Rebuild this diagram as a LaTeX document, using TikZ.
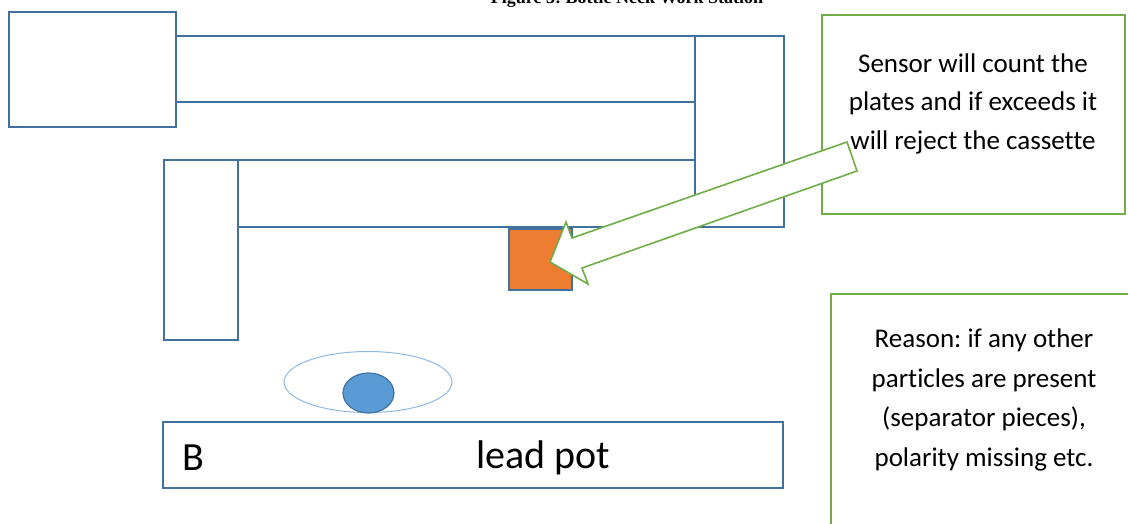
\documentclass[tikz,border=0pt]{standalone}
\usepackage{fontspec}
\setmainfont{Carlito}[Ligatures=CommonOff]
\newfontfamily\capfont{Liberation Serif}
\usepackage{tikz}
\usetikzlibrary{shapes.geometric,positioning}
\usepackage{xcolor}
\definecolor{partblue}{RGB}{65,113,156}
\definecolor{notegreen}{RGB}{112,173,71}
\definecolor{sensororange}{RGB}{237,125,49}
\definecolor{eyeblue}{RGB}{91,155,213}
\definecolor{eyeline}{RGB}{140,185,228}
\tikzstyle{part} = [draw=partblue, line width=1.5pt, fill=white, inner sep=0pt, outer sep=0pt, anchor=north west]
\tikzstyle{note} = [draw=notegreen, line width=1.6pt, fill=white, inner sep=0pt, outer sep=0pt, anchor=north west]
\tikzstyle{notetext} = [align=center, font=\fontsize{27}{38.5}\selectfont]
\frenchspacing

\begin{document}
\begin{tikzpicture}[x=1pt, y=-1pt]
\useasboundingbox (0,0) rectangle (1128,524);
\clip (0,0) rectangle (1128,524);

% Caption (cut off at the top)
\node[font=\capfont\bfseries\fontsize{18}{20}\selectfont, anchor=base] (caption) at (627,4) {Figure 3: Bottle Neck Work Station};

% Machine parts
\node[part, minimum width=167pt, minimum height=115pt] (feeder) at (9,12) {};
\node[part, minimum width=519pt, minimum height=66pt] (topbar) at (176,36) {};
\node[part, minimum width=89pt, minimum height=191pt] (rightpost) at (695,36) {};
\node[part, minimum width=457pt, minimum height=67pt] (midbar) at (238,160) {};
\node[part, minimum width=74pt, minimum height=180pt] (leftpost) at (164,160) {};
\node[part, fill=sensororange, minimum width=63pt, minimum height=61pt] (sensor) at (509,229) {};

% Eye and lead pot
\node[ellipse, draw=eyeline, line width=1pt, minimum width=168pt, minimum height=61pt] (eye) at (368,382) {};
\node[ellipse, draw=partblue, fill=eyeblue, line width=1.2pt, minimum width=51pt, minimum height=40pt] (pupil) at (368.5,393) {};
\node[part, minimum width=620pt, minimum height=66pt] (leadpot) at (163,422) {};
\node[font=\fontsize{40}{44}\selectfont, anchor=west, inner sep=0pt] (bmark) at (182,458) {B};
\node[font=\fontsize{40}{44}\selectfont, inner sep=0pt] (potlabel) at (543,458) {lead pot};

% Notes
\node[note, minimum width=303pt, minimum height=199pt] (sensorbox) at (822,15) {};
\node[notetext] (sensortext) at (973,103.5) {Sensor will count the\\plates and if exceeds it\\will reject the cassette};
\node[note, minimum width=306pt, minimum height=250pt] (reasonbox) at (831,294) {};
\node[notetext, font=\fontsize{27}{39.5}\selectfont] (reasontext) at (984,400) {Reason: if any other\\particles are present\\(separator pieces),\\polarity missing etc.};

% Block arrow to sensor
\draw[draw=notegreen, line width=1.6pt, fill=white, line join=miter]
  (847,142) -- (572,238) -- (566,222) -- (550,262) -- (588,284) -- (582,268) -- (857,171) -- cycle;
\end{tikzpicture}
\end{document}
